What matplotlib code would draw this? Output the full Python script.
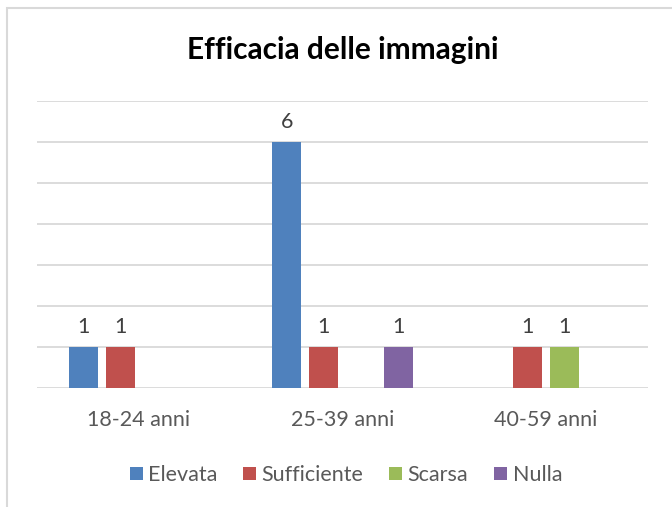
import numpy as np
import matplotlib.pyplot as plt
from matplotlib.patches import Rectangle

plt.rcParams['font.family'] = ['Lato', 'DejaVu Sans']

groups = ["18-24 anni", "25-39 anni", "40-59 anni"]
series = ["Elevata", "Sufficiente", "Scarsa", "Nulla"]
values = {
    "Elevata":     [1, 6, np.nan],
    "Sufficiente": [1, 1, 1],
    "Scarsa":      [np.nan, np.nan, 1],
    "Nulla":       [np.nan, 1, np.nan],
}
colors = ["#4F81BD", "#C0504D", "#9BBB59", "#8064A2"]

W, H = 672, 507
fig = plt.figure(figsize=(W / 100, H / 100), dpi=100)
fig.patches.append(Rectangle((7 / W, -0.1), 1.2, (H - 8) / H + 0.1, transform=fig.transFigure,
                             fill=False, edgecolor="#D9D9D9", linewidth=1.5))

ax = fig.add_axes([37 / W, (H - 388) / H, (648 - 37) / W, (388 - 101) / H])

x = np.arange(len(groups))
step = 37 / 203
width = 29 / 203
for i, (name, c) in enumerate(zip(series, colors)):
    vals = np.array(values[name], dtype=float)
    pos = x + (i - 1.5) * step
    ax.bar(pos, vals, width=width, color=c, label=name, zorder=3)
    for p, v in zip(pos, vals):
        if not np.isnan(v):
            ax.text(p, v + 0.25, f"{int(v)}", ha="center", va="bottom",
                    fontsize=15.5, color="#404040")

ax.set_xlim(-0.5, 2.5)
ax.set_ylim(0, 7)
ax.set_yticks(range(0, 8))
ax.yaxis.grid(True, color="#D9D9D9", linewidth=1.3, zorder=0)
ax.tick_params(axis="y", left=False, labelleft=False)
ax.tick_params(axis="x", length=0, pad=16, labelsize=15.5, labelcolor="#595959")
ax.set_xticks(x)
ax.set_xticklabels(groups)
for s in ax.spines.values():
    s.set_visible(False)

fig.text(343 / W, 1 - 50 / H, "Efficacia delle immagini", ha="center", va="center",
         fontsize=21.5, fontweight="bold", color="black")

leg = fig.legend(loc="center", bbox_to_anchor=(346 / W, 1 - 475 / H), ncol=4, frameon=False,
                 fontsize=15.5, handlelength=0.6, handleheight=0.6, handletextpad=0.25,
                 columnspacing=1.2)
for t in leg.get_texts():
    t.set_color("#595959")

fig.savefig("out.png", dpi=100)
